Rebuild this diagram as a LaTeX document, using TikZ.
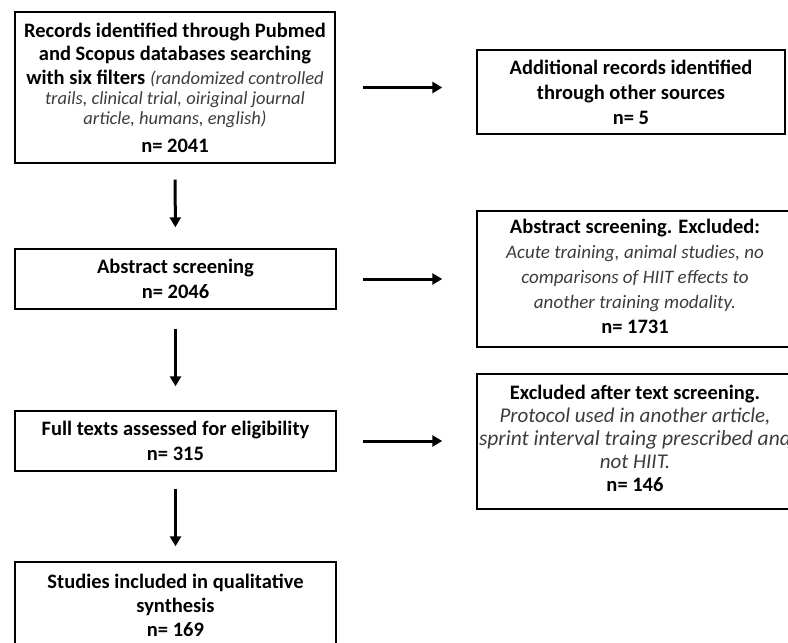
\documentclass[tikz,border=0pt]{standalone}
\usepackage{fontspec}
\setmainfont{Carlito}
\usetikzlibrary{arrows.meta}
\definecolor{itgray}{HTML}{3C3C3C}
\tikzset{
  box/.style={draw=black, line width=1.4pt, align=center, inner sep=0pt},
  arr/.style={line width=3pt, -{Triangle[length=10pt,width=11pt]}},
}
\newcommand{\itx}[2]{{\mdseries\itshape\color{itgray}\fontsize{#1}{#1}\selectfont#2}}
\begin{document}
\begin{tikzpicture}[x=1pt,y=-1pt]
\useasboundingbox (0,0) rectangle (788,643);
\clip (0,0) rectangle (788,643);
\node[box, minimum width=320pt, minimum height=151pt,
  font=\bfseries\fontsize{20.5}{24}\selectfont] (b1) at (175,87.5)
  {Records identified through Pubmed\\[-1pt]and Scopus databases searching\\
   with six filters \itx{18.5}{(randomized controlled}\\[-4pt]
   \itx{18.5}{trails, clinical trial, oiriginal journal}\\[-4pt]
   \itx{18.5}{article, humans, english)}\\[4pt]
   n= 2041};
\node[box, minimum width=321pt, minimum height=60pt,
  font=\bfseries\fontsize{20.5}{25}\selectfont] (b2) at (175.5,279)
  {Abstract screening\\n= 2046};
\node[box, minimum width=321pt, minimum height=60pt,
  font=\bfseries\fontsize{20.5}{25}\selectfont] (b3) at (175.5,441)
  {Full texts assessed for eligibility\\n= 315};
\node[box, minimum width=321pt, minimum height=90pt, text depth=4pt,
  font=\bfseries\fontsize{20.5}{24}\selectfont] (b4) at (175.5,607)
  {Studies included in qualitative\\synthesis\\n= 169};
\node[box, minimum width=308pt, minimum height=84pt,
  font=\bfseries\fontsize{20.5}{25}\selectfont] (r1) at (631,92)
  {Additional records identified\\through other sources\\n= 5};
\node[box, minimum width=316pt, minimum height=136pt, text depth=5pt,
  font=\bfseries\fontsize{20.5}{25}\selectfont] (r2) at (635,279)
  {Abstract screening. Excluded:\\
   \itx{19}{Acute training, animal studies, no}\\
   \itx{19}{comparisons of HIIT effects to}\\
   \itx{19}{another training modality.}\\
   n= 1731};
\node[box, minimum width=316pt, minimum height=135pt, text depth=6pt,
  font=\bfseries\fontsize{20.5}{23}\selectfont] (r3) at (635,441.5)
  {Excluded after text screening.\\
   \itx{21}{Protocol used in another article,}\\
   \makebox[250pt]{\itx{21.5}{sprint interval traing prescribed and}}\\
   \itx{21}{not HIIT.}\\
   n= 146};
\draw[arr, shorten <=16pt, shorten >=21pt] (b1.south) -- (b2.north);
\draw[arr, shorten <=19pt, shorten >=24pt] (b2.south) -- (b3.north);
\draw[arr, shorten <=17pt, shorten >=15pt] (b3.south) -- (b4.north);
\draw[arr, shorten <=27pt, shorten >=34pt] (b1.east) -- (b1.east -| r1.west);
\draw[arr, shorten <=26pt, shorten >=34pt] (b2.east) -- (b2.east -| r2.west);
\draw[arr, shorten <=26pt, shorten >=34pt] (b3.east) -- (b3.east -| r3.west);
\end{tikzpicture}
\end{document}
